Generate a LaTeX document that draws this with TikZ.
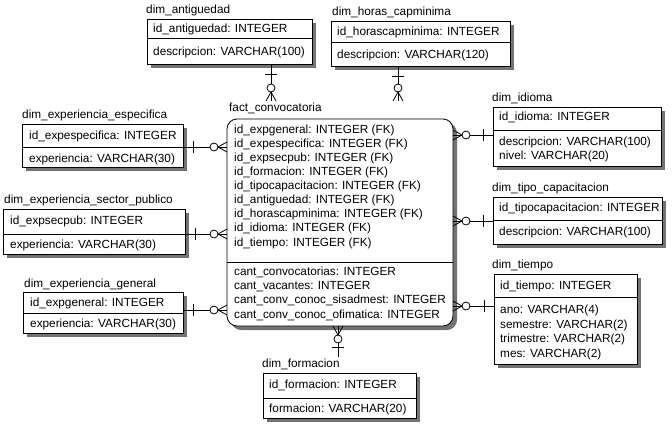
\documentclass[tikz,border=0pt]{standalone}
\usepackage{fontspec}
\setmainfont{Liberation Sans}
\usetikzlibrary{shadows,decorations.markings}
\begin{document}
\begin{tikzpicture}[x=1pt,y=-1pt,
  ent/.style={draw, line width=0.8pt, fill=white, anchor=north west, inner sep=0pt, outer sep=0pt,
    drop shadow={shadow xshift=4pt, shadow yshift=-4pt, fill=black!55, opacity=1}},
  factbox/.style={ent, rounded corners=10pt},
  frame/.style={anchor=north west, inner sep=0pt, outer sep=0pt},
  txt/.style={anchor=west, inner sep=0pt, text height=9pt, text depth=2.5pt, font=\fontsize{11.8}{14}\selectfont},
  ttl/.style={txt},
  sepline/.style={line width=0.8pt},
  rel/.style={line width=0.8pt, postaction={decorate}, decoration={markings,
     mark=at position 10pt with {\draw[line width=0.8pt] (0pt,-6pt) -- (0pt,6pt);},
     mark=at position -13pt with {\draw[line width=0.8pt, fill=white] (0pt,0pt) circle (4pt);},
     mark=at position -9pt with {\draw[line width=0.8pt] (0pt,0pt) -- (9pt,5pt) (0pt,0pt) -- (9pt,-5pt);}}}
]
\useasboundingbox (0,0) rectangle (672,424);

% ---------- fact_convocatoria ----------
\node[ttl] (factT) at (229,108) {fact\_convocatoria};
\node[factbox, minimum width=226pt, minimum height=207pt] (fact) at (227,119) {};
\node[frame, minimum width=226pt, minimum height=225pt] (factF) at (227,101) {};
\draw[sepline] (fact.north west) ++(0,143) -- ++(226,0);
\foreach \t [count=\i from 0] in {id\_expgeneral: INTEGER (FK),id\_expespecifica: INTEGER (FK),id\_expsecpub: INTEGER (FK),id\_formacion: INTEGER (FK),id\_tipocapacitacion: INTEGER (FK),id\_antiguedad: INTEGER (FK),id\_horascapminima: INTEGER (FK),id\_idioma: INTEGER (FK),id\_tiempo: INTEGER (FK)}
  \node[txt] (fk\i) at (234,{130+14.1*\i}) {\t};
\foreach \t [count=\i from 0] in {cant\_convocatorias: INTEGER,cant\_vacantes: INTEGER,cant\_conv\_conoc\_sisadmest: INTEGER,cant\_conv\_conoc\_ofimatica: INTEGER}
  \node[txt] (fm\i) at (234,{272+14.3*\i}) {\t};

% ---------- dim_antiguedad ----------
\node[ttl] (antT) at (146,10) {dim\_antiguedad};
\node[ent, minimum width=165pt, minimum height=45pt] (ant) at (147,19) {};
\draw[sepline] (ant.north west) ++(0,19) -- ++(165,0);
\node[txt] (antA) at (153,29) {id\_antiguedad: INTEGER};
\node[txt] (antB) at (153,52) {descripcion: VARCHAR(100)};

% ---------- dim_horas_capminima ----------
\node[ttl] (horT) at (332,12) {dim\_horas\_capminima};
\node[ent, minimum width=179pt, minimum height=45pt] (hor) at (331,21) {};
\draw[sepline] (hor.north west) ++(0,21) -- ++(179,0);
\node[txt] (horA) at (337,32) {id\_horascapminima: INTEGER};
\node[txt] (horB) at (337,55) {descripcion: VARCHAR(120)};

% ---------- dim_experiencia_especifica ----------
\node[ttl] (espT) at (22,115) {dim\_experiencia\_especifica};
\node[ent, minimum width=161pt, minimum height=43pt] (esp) at (22,124) {};
\draw[sepline] (esp.north west) ++(0,23) -- ++(161,0);
\node[txt] (espA) at (29,136) {id\_expespecifica: INTEGER};
\node[txt] (espB) at (29,159) {experiencia: VARCHAR(30)};

% ---------- dim_experiencia_sector_publico ----------
\node[ttl] (secT) at (4,200) {dim\_experiencia\_sector\_publico};
\node[ent, minimum width=182pt, minimum height=45pt] (sec) at (3,209) {};
\draw[sepline] (sec.north west) ++(0,25) -- ++(182,0);
\node[txt] (secA) at (10,221) {id\_expsecpub: INTEGER};
\node[txt] (secB) at (10,245) {experiencia: VARCHAR(30)};

% ---------- dim_experiencia_general ----------
\node[ttl] (genT) at (24,284) {dim\_experiencia\_general};
\node[ent, minimum width=160pt, minimum height=41pt] (gen) at (23,292) {};
\draw[sepline] (gen.north west) ++(0,21) -- ++(160,0);
\node[txt] (genA) at (30,303) {id\_expgeneral: INTEGER};
\node[txt] (genB) at (30,324) {experiencia: VARCHAR(30)};

% ---------- dim_formacion ----------
\node[ttl] (forT) at (262,364) {dim\_formacion};
\node[ent, minimum width=153pt, minimum height=45pt] (for) at (263,373) {};
\node[frame, minimum width=153pt, minimum height=61pt] (forF) at (263,357) {};
\draw[sepline] (for.north west) ++(0,25) -- ++(153,0);
\node[txt] (forA) at (269,385) {id\_formacion: INTEGER};
\node[txt] (forB) at (269,409) {formacion: VARCHAR(20)};

% ---------- dim_idioma ----------
\node[ttl] (idiT) at (492,98) {dim\_idioma};
\node[ent, minimum width=168pt, minimum height=59pt] (idi) at (493,107) {};
\draw[sepline] (idi.north west) ++(0,23) -- ++(168,0);
\node[txt] (idiA) at (499,117) {id\_idioma: INTEGER};
\node[txt] (idiB) at (499,142) {descripcion: VARCHAR(100)};
\node[txt] (idiC) at (499,156) {nivel: VARCHAR(20)};

% ---------- dim_tipo_capacitacion ----------
\node[ttl] (tipT) at (492,188) {dim\_tipo\_capacitacion};
\node[ent, minimum width=169pt, minimum height=47pt] (tip) at (493,197) {};
\draw[sepline] (tip.north west) ++(0,23) -- ++(169,0);
\node[txt] (tipA) at (499,208) {id\_tipocapacitacion: INTEGER};
\node[txt] (tipB) at (499,232) {descripcion: VARCHAR(100)};

% ---------- dim_tiempo ----------
\node[ttl] (tieT) at (492,265) {dim\_tiempo};
\node[ent, minimum width=143pt, minimum height=90pt] (tie) at (494,274) {};
\draw[sepline] (tie.north west) ++(0,23) -- ++(143,0);
\node[txt] (tieA) at (500,286) {id\_tiempo: INTEGER};
\node[txt] (tieB) at (500,310) {ano: VARCHAR(4)};
\node[txt] (tieC) at (500,325) {semestre: VARCHAR(2)};
\node[txt] (tieD) at (500,339) {trimestre: VARCHAR(2)};
\node[txt] (tieE) at (500,354) {mes: VARCHAR(2)};

% ---------- connectors ----------
\coordinate (xa) at (271,0);
\coordinate (xh) at (398,0);
\coordinate (xf) at (338,0);
\coordinate (ye) at (0,147);
\coordinate (ys) at (0,234);
\coordinate (yg) at (0,310);
\coordinate (yi) at (0,135);
\coordinate (yt) at (0,221);
\coordinate (yti) at (0,306);
\draw[rel] (ant.south -| xa) -- (factF.north -| xa);
\draw[rel] (hor.south -| xh) -- (factF.north -| xh);
\draw[rel] (forF.north -| xf) -- (fact.south -| xf);
\draw[rel] (esp.east |- ye) -- (fact.west |- ye);
\draw[rel] (sec.east |- ys) -- (fact.west |- ys);
\draw[rel] (gen.east |- yg) -- (fact.west |- yg);
\draw[rel] (idi.west |- yi) -- (fact.east |- yi);
\draw[rel] (tip.west |- yt) -- (fact.east |- yt);
\draw[rel] (tie.west |- yti) -- (fact.east |- yti);
\end{tikzpicture}
\end{document}
